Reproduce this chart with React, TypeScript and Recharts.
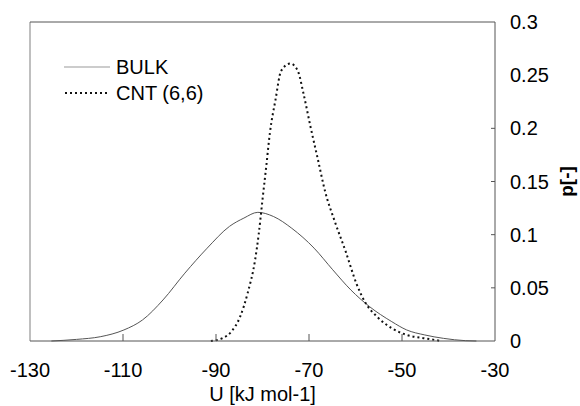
import React from 'react';
import { LineChart, Line, XAxis, YAxis, ReferenceLine, Label } from 'recharts';

const xTicks = [-130, -110, -90, -70, -50, -30];
const yTicks = [0, 0.05, 0.1, 0.15, 0.2, 0.25, 0.3];
const xTickMarks = [-110, -90, -70, -50];
const yTickMarks = [0.05, 0.1, 0.15, 0.2];

const bulkU = [-125.4, -120, -114.9, -109.8, -105.8, -101.4, -96.7, -91.9, -87.1, -84.0, -81.0, -77.6, -73.7, -68.9, -64.9, -61.0, -57.0, -52.2, -49.0, -45.1, -41.1, -36.3, -34];
const bulkP = [0, 0.0015, 0.004, 0.0104, 0.0198, 0.0386, 0.0638, 0.0873, 0.1078, 0.1156, 0.121, 0.117, 0.106, 0.0873, 0.067, 0.048, 0.0324, 0.0182, 0.0104, 0.0057, 0.0025, 0.0003, 0];

const cntU = [-91.1, -88.7, -86.7, -84.8, -83.2, -81.6, -80.8, -80.0, -79.2, -78.4, -77.2, -76.0, -74.0, -72.4, -71.2, -69.7, -68.1, -66.5, -64.5, -62.1, -59.8, -57.8, -55.4, -52.2, -49.0, -45.1, -41.5];
const cntP = [0, 0.0025, 0.0088, 0.023, 0.045, 0.076, 0.101, 0.133, 0.164, 0.196, 0.227, 0.254, 0.261, 0.254, 0.233, 0.202, 0.171, 0.14, 0.113, 0.084, 0.054, 0.0355, 0.023, 0.012, 0.0057, 0.0025, 0];

const seriesNames = ['BULK', 'CNT (6,6)'];

const bulkData = bulkU.map((u, i) => ({ u, p: bulkP[i] }));
const cntData = cntU.map((u, i) => ({ u, p: cntP[i] }));

const FONT = '"Liberation Sans", Arial, Helvetica, sans-serif';
const FS = 20;

const XTick = (props: any) => {
  const { x, y, payload } = props;
  return (
    <g>
      {xTickMarks.includes(payload.value) && (
        <line x1={x} y1={y} x2={x} y2={y - 7} stroke="#555" strokeWidth={1} />
      )}
      <text x={x} y={y + 36} textAnchor="middle" fontSize={FS} fill="#000" fontFamily={FONT}>
        {payload.value}
      </text>
    </g>
  );
};

const YTick = (props: any) => {
  const { x, y, payload } = props;
  return (
    <g>
      {yTickMarks.includes(payload.value) && (
        <line x1={x} y1={y} x2={x - 4} y2={y} stroke="#555" strokeWidth={1} />
      )}
      <text x={x + 15} y={y + 7} textAnchor="start" fontSize={FS} fill="#000" fontFamily={FONT}>
        {payload.value}
      </text>
    </g>
  );
};

const LegendBox = () => (
  <div
    style={{
      position: 'absolute',
      left: 64,
      top: 54,
      fontFamily: FONT,
      fontSize: FS,
      color: '#000',
      lineHeight: '26px',
    }}
  >
    <div style={{ display: 'flex', alignItems: 'center' }}>
      <svg width={46} height={10} style={{ marginRight: 6 }}>
        <line x1={0} y1={5} x2={46} y2={5} stroke="#999" strokeWidth={1} />
      </svg>
      <span>{seriesNames[0]}</span>
    </div>
    <div style={{ display: 'flex', alignItems: 'center' }}>
      <svg width={46} height={10} style={{ marginRight: 6 }}>
        <line x1={1} y1={5} x2={46} y2={5} stroke="#111" strokeWidth={2} strokeDasharray="2 3" />
      </svg>
      <span>{seriesNames[1]}</span>
    </div>
  </div>
);

export default function App() {
  return (
    <div style={{ position: 'absolute', left: 0, top: 0, width: 580, height: 406, background: '#fff' }}>
      <LineChart width={580} height={406} margin={{ top: 22, right: 0, bottom: 0, left: 30 }}>
        <XAxis
          type="number"
          dataKey="u"
          domain={[-130, -30]}
          ticks={xTicks}
          allowDataOverflow
          height={65}
          tickSize={0}
          tickMargin={0}
          tickLine={false}
          axisLine={{ stroke: '#555' }}
          tick={<XTick />}
          interval={0}
        >
          <Label
            value="U [kJ mol-1]"
            position="insideBottom"
            offset={5}
            style={{ fontFamily: FONT, fontSize: FS, fill: '#000' }}
          />
        </XAxis>
        <YAxis
          orientation="right"
          type="number"
          domain={[0, 0.3]}
          ticks={yTicks}
          width={85}
          tickSize={0}
          tickMargin={0}
          tickLine={false}
          axisLine={{ stroke: '#555' }}
          tick={<YTick />}
          interval={0}
        >
          <Label
            content={(p: any) => {
              const vb = p.viewBox;
              const cx = vb.x + 71;
              const cy = vb.y + vb.height / 2;
              return (
                <text
                  x={cx}
                  y={cy}
                  transform={`rotate(-90 ${cx} ${cy})`}
                  textAnchor="middle"
                  dominantBaseline="central"
                  fontSize={19}
                  fontWeight="bold"
                  fill="#000"
                  fontFamily={FONT}
                >
                  p[-]
                </text>
              );
            }}
          />
        </YAxis>
        <ReferenceLine x={-130} stroke="#aaa" strokeWidth={1.5} />
        <ReferenceLine y={0.3} stroke="#555" strokeWidth={1} />
        <Line
          data={bulkData}
          dataKey="p"
          type="monotone"
          stroke="#555"
          strokeWidth={1}
          dot={false}
          isAnimationActive={false}
          name={seriesNames[0]}
        />
        <Line
          data={cntData}
          dataKey="p"
          type="monotone"
          stroke="#111"
          strokeWidth={2}
          strokeDasharray="2 3"
          dot={false}
          isAnimationActive={false}
          name={seriesNames[1]}
        />
      </LineChart>
      <LegendBox />
    </div>
  );
}
